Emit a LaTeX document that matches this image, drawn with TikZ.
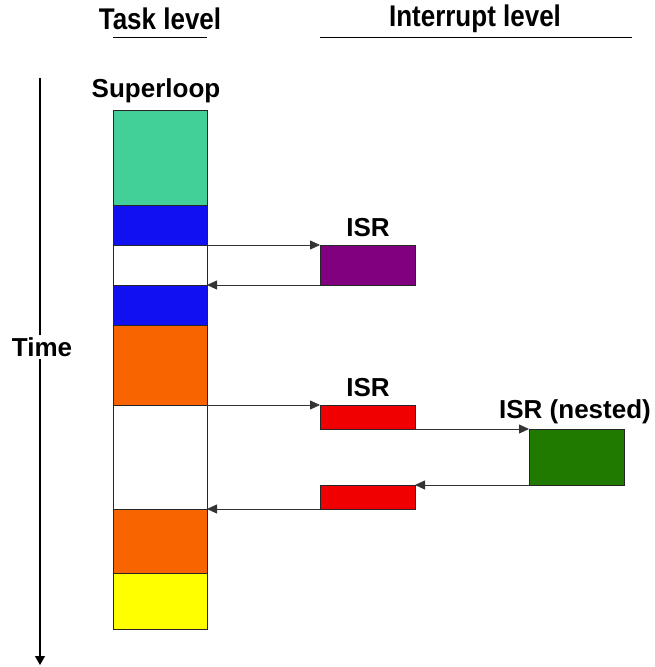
\documentclass[tikz,border=0pt]{standalone}
\usepackage{fontspec}
\setmainfont{Liberation Sans}
\usetikzlibrary{arrows.meta}
\definecolor{slgreen}{RGB}{66,207,152}
\definecolor{tblue}{RGB}{16,16,240}
\definecolor{torange}{RGB}{248,100,0}
\definecolor{isrpurple}{RGB}{128,0,128}
\definecolor{isrred}{RGB}{240,0,0}
\definecolor{nestgreen}{RGB}{32,122,0}
\definecolor{tyellow}{RGB}{255,255,0}
\tikzset{
  blk/.style={draw=black!85, line width=0.8pt, outer sep=0pt, inner sep=0pt},
  conn/.style={draw=black!80, line width=0.8pt, -{Triangle[length=10pt,width=9pt]}},
  lbl/.style={font=\fontsize{26}{30}\selectfont\bfseries, inner sep=0pt},
  hdr/.style={lbl, yscale=1.15, transform shape},
}
\newcommand{\blk}[6]{\node[blk, fill=#6, anchor=north west, minimum width={#4pt-#2pt}, minimum height={#5pt-#3pt}] (#1) at (#2,#3) {};}

\begin{document}
\begin{tikzpicture}[x=1pt,y=-1pt]
        \useasboundingbox (0,0) rectangle (655,667);

        % headers
        \node[hdr] (task) at (160,19) {Task level};
        \node[hdr] (intr) at (475,19) {Interrupt level};
        \draw[line width=0.8pt] (113,37) -- (207,37);
        \draw[line width=0.8pt] (320,37) -- (632,37);

        % time axis
        \coordinate (t0) at (40,78);
        \coordinate (t1) at (40,665);
        \draw[line width=1.2pt, -{Triangle[length=9pt,width=10pt]}] (t0) -- (t1);
        \node[lbl, fill=white, inner sep=2pt] (time) at (42,347) {Time};

        % task level
        \node[lbl] (super) at (156,91) {Superloop};
        \blk{sl}{113}{110}{207}{205}{slgreen}
        \blk{b1}{113}{205}{207}{245}{tblue}
        \blk{w1}{113}{245}{207}{285}{white}
        \blk{b2}{113}{285}{207}{325}{tblue}
        \blk{o1}{113}{325}{207}{405}{torange}
        \blk{w2}{113}{405}{207}{509}{white}
        \blk{o2}{113}{509}{207}{573}{torange}
        \blk{y1}{113}{573}{207}{629}{tyellow}

        % interrupt level
        \blk{isr1}{320}{245}{415}{285}{isrpurple}
        \blk{isr2}{320}{405}{415}{429}{isrred}
        \blk{nest}{529}{429}{624}{485}{nestgreen}
        \blk{isr3}{320}{485}{415}{509}{isrred}
        \node[lbl] (l1) at (368,228) {ISR};
        \node[lbl] (l2) at (368,388) {ISR};
        \node[lbl] (l3) at (575,412) {ISR (nested)};

        % connectors
        \draw[conn] (w1.north east) -- (isr1.north west);
        \draw[conn] (isr1.south west) -- (w1.south east);
        \draw[conn] (w2.north east) -- (isr2.north west);
        \draw[conn] (isr2.south east) -- (nest.north west);
        \draw[conn] (nest.south west) -- (isr3.north east);
        \draw[conn] (isr3.south west) -- (w2.south east);

    \end{tikzpicture}
\end{document}
